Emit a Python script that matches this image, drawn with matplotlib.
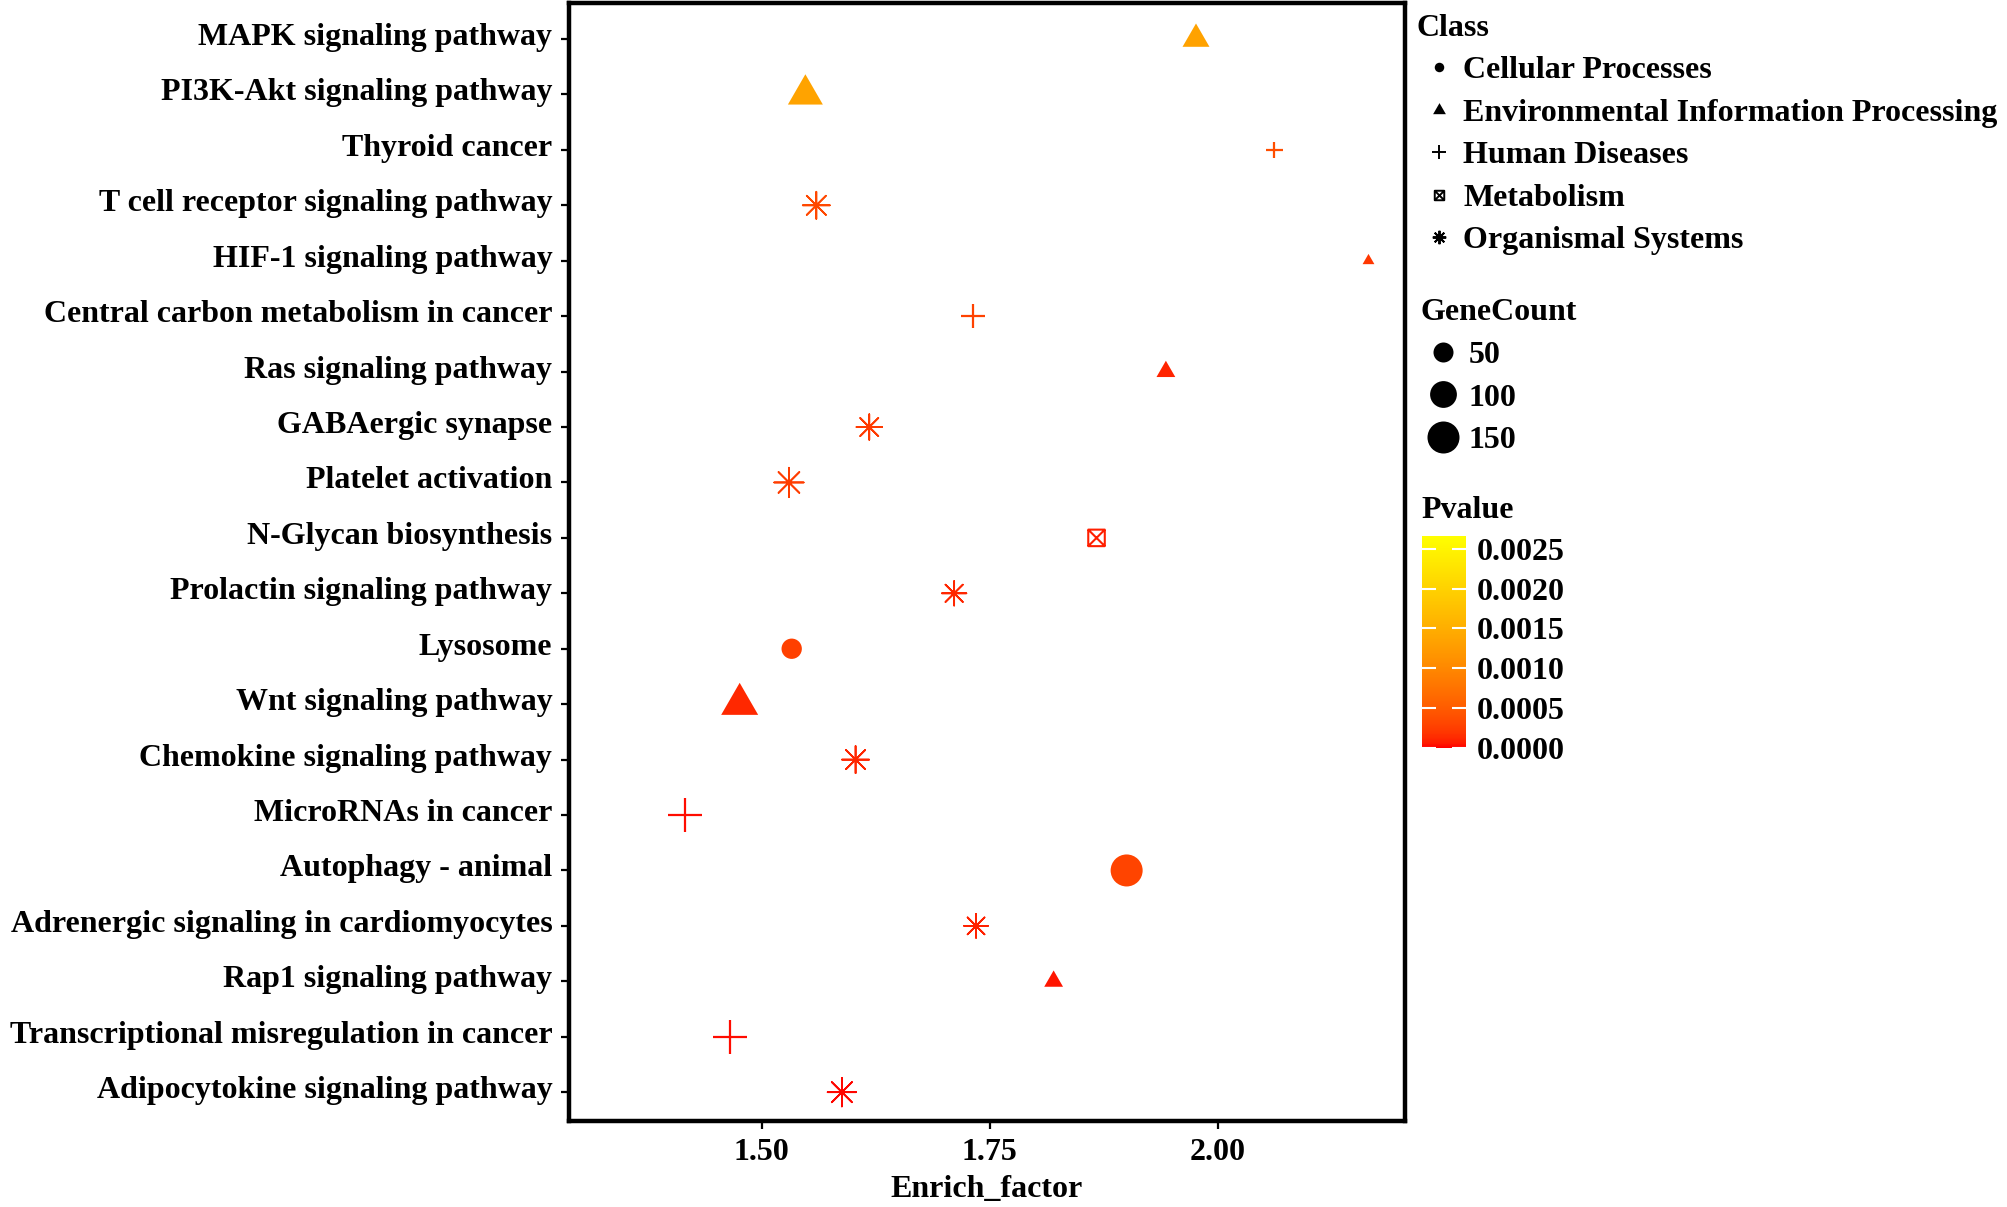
import numpy as np
import matplotlib
matplotlib.use('Agg')
import matplotlib.pyplot as plt
from matplotlib.colors import ListedColormap, Normalize
from matplotlib.path import Path
from matplotlib.lines import Line2D
from matplotlib.ticker import FormatStrFormatter
from matplotlib.transforms import ScaledTranslation


#***** Data *****
pathways = ['MAPK signaling pathway', 'PI3K-Akt signaling pathway', 'Thyroid cancer',
            'T cell receptor signaling pathway', 'HIF-1 signaling pathway',
            'Central carbon metabolism in cancer', 'Ras signaling pathway', 'GABAergic synapse',
            'Platelet activation', 'N-Glycan biosynthesis', 'Prolactin signaling pathway',
            'Lysosome', 'Wnt signaling pathway', 'Chemokine signaling pathway',
            'MicroRNAs in cancer', 'Autophagy - animal', 'Adrenergic signaling in cardiomyocytes',
            'Rap1 signaling pathway', 'Transcriptional misregulation in cancer',
            'Adipocytokine signaling pathway']
enrich_factor = [1.976, 1.548, 2.062, 1.560, 2.165, 1.732, 1.943, 1.618, 1.530, 1.867,
                 1.711, 1.533, 1.476, 1.603, 1.416, 1.900, 1.735, 1.820, 1.465, 1.588]
gene_count = [50, 93, 12, 45, 5, 33, 20, 39, 55, 31, 35, 52, 106, 45, 80, 150, 33, 20, 77, 51]
pvalue = [0.00133, 0.00135, 0.00038, 0.00033, 0.00020, 0.00028, 0.00010, 0.00022, 0.00024,
          0.00008, 0.00011, 0.00027, 0.00012, 0.00011, 0.00003, 0.00030, 0.00009, 0.00005,
          0.00003, 0.00002]
pathway_class = ['Environmental Information Processing', 'Environmental Information Processing',
                 'Human Diseases', 'Organismal Systems', 'Environmental Information Processing',
                 'Human Diseases', 'Environmental Information Processing', 'Organismal Systems',
                 'Organismal Systems', 'Metabolism', 'Organismal Systems', 'Cellular Processes',
                 'Environmental Information Processing', 'Organismal Systems', 'Human Diseases',
                 'Cellular Processes', 'Organismal Systems', 'Environmental Information Processing',
                 'Human Diseases', 'Organismal Systems']
class_names = ['Cellular Processes', 'Environmental Information Processing', 'Human Diseases',
               'Metabolism', 'Organismal Systems']
size_breaks = [50, 100, 150]
p_ticks = [0.0000, 0.0005, 0.0010, 0.0015, 0.0020, 0.0025]
p_limits = (0.0, 0.00266)
x_ticks = [1.50, 1.75, 2.00]
#**************************************


#********** red -> yellow gradient in Lab (like ggplot) ************
WHITE = np.array([0.95047, 1.0, 1.08883])
M_RGB2XYZ = np.array([[0.4124, 0.3576, 0.1805],
                      [0.2126, 0.7152, 0.0722],
                      [0.0193, 0.1192, 0.9505]])

def srgb_to_lab(rgb):
    rgb = np.asarray(rgb, float)
    lin = np.where(rgb <= 0.04045, rgb / 12.92, ((rgb + 0.055) / 1.055) ** 2.4)
    xyz = M_RGB2XYZ @ lin / WHITE
    f = np.where(xyz > 0.008856, np.cbrt(xyz), 7.787 * xyz + 16 / 116)
    return np.array([116 * f[1] - 16, 500 * (f[0] - f[1]), 200 * (f[1] - f[2])])

def lab_to_srgb(lab):
    L, a, b = lab[:, 0], lab[:, 1], lab[:, 2]
    fy = (L + 16) / 116
    fx = fy + a / 500
    fz = fy - b / 200
    f = np.stack([fx, fy, fz], axis=1)
    xyz = np.where(f > 0.2069, f ** 3, (f - 16 / 116) / 7.787) * WHITE
    lin = xyz @ np.linalg.inv(M_RGB2XYZ).T
    lin = np.clip(lin, 0, 1)
    rgb = np.where(lin <= 0.0031308, 12.92 * lin, 1.055 * lin ** (1 / 2.4) - 0.055)
    return np.clip(rgb, 0, 1)

lab_lo = srgb_to_lab([1, 0, 0])
lab_hi = srgb_to_lab([1, 1, 0])
t = np.linspace(0, 1, 256)[:, None]
cmap = ListedColormap(lab_to_srgb(lab_lo + t * (lab_hi - lab_lo)))
norm = Normalize(vmin=p_limits[0], vmax=p_limits[1])
#*******************************************************************


#********** Marker shapes (R pch 16, 17, 3, 7, 8) ************
tri_path = Path([(0, 1), (-0.866, -0.5), (0.866, -0.5), (0, 1)],
                [Path.MOVETO, Path.LINETO, Path.LINETO, Path.CLOSEPOLY])
sqx_path = Path([(-1, -1), (1, -1), (1, 1), (-1, 1), (-1, -1),
                 (-1, -1), (1, 1), (-1, 1), (1, -1)],
                [Path.MOVETO, Path.LINETO, Path.LINETO, Path.LINETO, Path.CLOSEPOLY,
                 Path.MOVETO, Path.LINETO, Path.MOVETO, Path.LINETO])
# marker, size factor relative to circle diameter, kind, line width
class_style = {
    'Cellular Processes': ('o', 1.0, 'fill', 0),
    'Environmental Information Processing': (tri_path, 1.555, 'fill', 0),
    'Human Diseases': ('+', 1.414, 'line', 1.6),
    'Metabolism': (sqx_path, 1.0, 'outline', 1.5),
    'Organismal Systems': ((8, 2, 0), 1.414, 'line', 1.25),
}

def diameter_px(n):
    return 2.32 * np.sqrt(np.asarray(n, float)) + 3.6

PX2PT = 0.72  # dpi 100
#**************************************************************


plt.rcParams['font.family'] = 'Liberation Serif'
plt.rcParams['font.weight'] = 'bold'
FS = 23

fig = plt.figure(figsize=(20.08, 12.07), dpi=100)
ax = fig.add_axes([569 / 2008, 1 - 1121 / 1207, 836 / 2008, 1118 / 1207])

x = np.array(enrich_factor)
y = np.arange(len(pathways))
n = np.array(gene_count)
p = np.array(pvalue)
cls = np.array(pathway_class)

for c in class_names:
    m = cls == c
    marker, fac, kind, lw = class_style[c]
    s = (fac * diameter_px(n[m]) * PX2PT) ** 2
    if kind == 'fill':
        ax.scatter(x[m], y[m], s=s, c=p[m], cmap=cmap, norm=norm, marker=marker,
                   linewidths=0, zorder=3)
    elif kind == 'line':
        ax.scatter(x[m], y[m], s=s, c=p[m], cmap=cmap, norm=norm, marker=marker,
                   linewidths=lw, zorder=3)
    else:
        ax.scatter(x[m], y[m], s=s, facecolors='none', edgecolors=cmap(norm(p[m])),
                   marker=marker, linewidths=lw, zorder=3)

ax.set_xlim(1.289, 2.205)
ax.set_ylim(len(pathways) - 1 + 0.52, -0.65)
ax.set_yticks(y)
ax.set_yticklabels(pathways)
ax.set_xticks(x_ticks)
ax.xaxis.set_major_formatter(FormatStrFormatter('%.2f'))
ax.tick_params(axis='both', direction='out', length=6, width=1.6, labelsize=FS, pad=6)
ax.set_xlabel('Enrich_factor', fontsize=FS, fontweight='bold', labelpad=6)
for sp in ax.spines.values():
    sp.set_linewidth(3.2)
# the labels sit a little above the tick rows in the original
shift_up = ScaledTranslation(0, 5 / 100, fig.dpi_scale_trans)
for lab in ax.get_yticklabels():
    lab.set_transform(lab.get_transform() + shift_up)


#********** Legends ************
class_handles = []
for c in class_names:
    marker, fac, kind, lw = class_style[c]
    class_handles.append(Line2D([], [], linestyle='none', marker=marker, color='black',
                                markersize=fac * 9.5 * PX2PT,
                                markerfacecolor='none' if kind == 'outline' else 'black',
                                markeredgewidth=0 if kind == 'fill' else 1.4, label=c))
leg1 = fig.legend(handles=class_handles, title='Class', loc='upper left',
                  bbox_to_anchor=(1417 / 2008, 1 - 14 / 1207), frameon=False,
                  fontsize=FS, title_fontsize=FS, alignment='left', borderpad=0,
                  borderaxespad=0, handlelength=1.4, handletextpad=0.05, labelspacing=0.41)
leg1.get_title().set_fontweight('bold')

size_handles = [Line2D([], [], linestyle='none', marker='o', color='black', markeredgewidth=0,
                       markersize=diameter_px(b) * PX2PT, label=str(b)) for b in size_breaks]
leg2 = fig.legend(handles=size_handles, title='GeneCount', loc='upper left',
                  bbox_to_anchor=(1421 / 2008, 1 - 298 / 1207), frameon=False,
                  fontsize=FS, title_fontsize=FS, alignment='left', borderpad=0,
                  borderaxespad=0, handlelength=1.4, handletextpad=0.1, labelspacing=0.42)
leg2.get_title().set_fontweight('bold')

cax = fig.add_axes([1421.7 / 2008, 1 - 747.7 / 1207, 44 / 2008, 211.7 / 1207])
sm = plt.cm.ScalarMappable(norm=norm, cmap=cmap)
cb = fig.colorbar(sm, cax=cax, ticks=p_ticks, format='%.4f')
cb.outline.set_visible(False)
cax.tick_params(axis='y', direction='in', length=10, width=1.5, color='white',
                left=True, right=True, labelsize=FS, pad=8)
fig.text(1421 / 2008, 1 - 511 / 1207, 'Pvalue', fontsize=FS, fontweight='bold',
         ha='left', va='center')

fig.savefig('out.png', dpi=100)
